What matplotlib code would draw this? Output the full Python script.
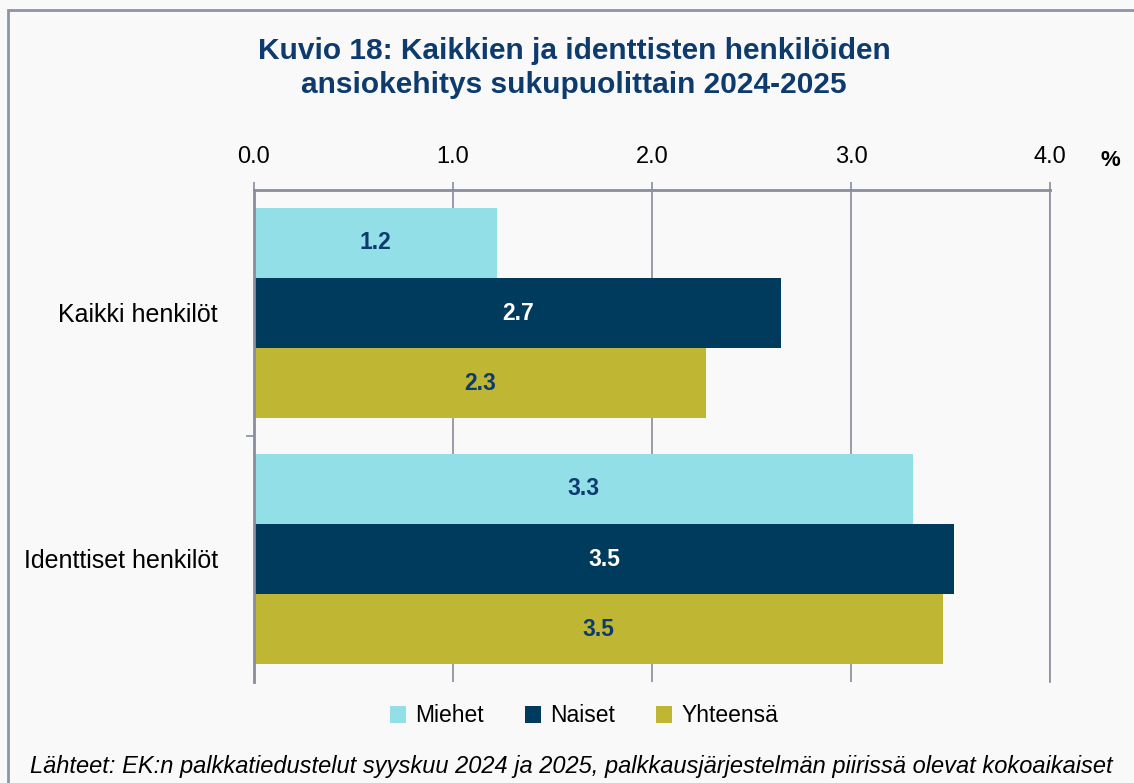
import matplotlib
matplotlib.use("Agg")
import matplotlib.pyplot as plt
import numpy as np
from matplotlib.patches import Rectangle

categories = ["Kaikki henkilöt", "Identtiset henkilöt"]
series = ["Miehet", "Naiset", "Yhteensä"]
miehet = [1.22, 3.31]
naiset = [2.65, 3.52]
yhteensa = [2.27, 3.46]
labels_m = ["1.2", "3.3"]
labels_n = ["2.7", "3.5"]
labels_y = ["2.3", "3.5"]
xticks = [0.0, 1.0, 2.0, 3.0, 4.0]

C_M = "#92dfe8"
C_N = "#003a5d"
C_Y = "#bfb734"
TXT = "#0d3b6e"
GRID = "#8a8d9c"

plt.rcParams["font.family"] = ["Liberation Sans", "DejaVu Sans"]

fig = plt.figure(figsize=(11.34, 7.83), dpi=100)
fig.patch.set_facecolor("#f9f9f9")
fig.patches.append(Rectangle((8/1134, -0.01), 1.2, 1 - 10/783 + 0.01, transform=fig.transFigure,
                             fill=False, ec="#8f93a6", lw=2.0))

ax = fig.add_axes([254/1134, 1 - 682/783, (1050-254)/1134, (682-190)/783])
ax.set_facecolor("#f9f9f9")

y = np.arange(len(categories))
h = 0.285
data = [(miehet, labels_m, C_M, TXT), (naiset, labels_n, C_N, "white"), (yhteensa, labels_y, C_Y, TXT)]
for i, (vals, labs, col, tc) in enumerate(data):
    pos = y + (i - 1) * h
    ax.barh(pos, vals, height=h, color=col, label=series[i], zorder=2)
    for p, v, t in zip(pos, vals, labs):
        ax.text(v / 2, p, t, ha="center", va="center", color=tc, fontsize=16.5, fontweight="bold", zorder=3)

ax.set_xlim(0, 4.0)
ax.set_ylim(1.5, -0.5)
ax.xaxis.tick_top()
ax.set_xticks(xticks)
ax.set_xticklabels([f"{t:.1f}" for t in xticks], fontsize=17)
ax.grid(axis="x", color=GRID, lw=1.2, zorder=0)
ax.tick_params(axis="x", length=6, color=GRID, width=1.2, pad=10)
ax.set_yticks(y)
ax.set_yticklabels(categories, fontsize=18)
ax.set_yticks([0.5], minor=True)
ax.tick_params(axis="y", which="major", length=0, pad=26)
ax.tick_params(axis="y", which="minor", length=6, color=GRID, width=1.2)
for s in ["bottom", "right"]:
    ax.spines[s].set_visible(False)
for s in ["top", "left"]:
    ax.spines[s].set_color(GRID)
    ax.spines[s].set_linewidth(2)
ax.plot([4.0, 4.0], [1.5, -0.5], color=GRID, lw=1.2, zorder=1, clip_on=False)

fig.text(1110/1134, 1 - 160/783, "%", fontsize=16, fontweight="bold", ha="center", va="center")
fig.text(574/1134, 1 - 68/783, "Kuvio 18: Kaikkien ja identtisten henkilöiden\nansiokehitys sukupuolittain 2024-2025",
         ha="center", va="center", fontsize=21.5, fontweight="bold", color=TXT, linespacing=1.25)

fig.legend(loc="center", bbox_to_anchor=(584/1134, 1 - 716/783), ncol=3, frameon=False,
           fontsize=16.5, handlelength=0.7, handleheight=0.7, handletextpad=0.4, columnspacing=1.8)

fig.text(30/1134, 1 - 766/783,
         "Lähteet: EK:n palkkatiedustelut syyskuu 2024 ja 2025, palkkausjärjestelmän piirissä olevat kokoaikaiset",
         ha="left", va="center", fontsize=17, style="italic")

fig.savefig("out.png", dpi=100, facecolor=fig.get_facecolor())
